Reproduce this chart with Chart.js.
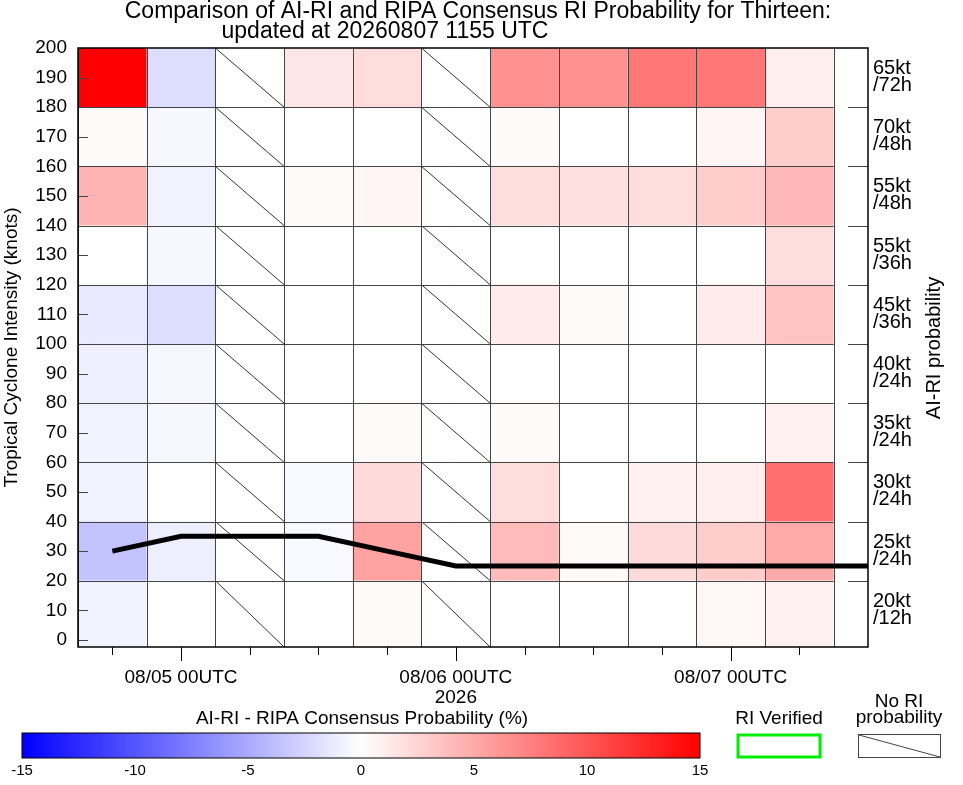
<!DOCTYPE html>
<html>
<head>
<meta charset="utf-8">
<script src="https://cdn.jsdelivr.net/npm/chart.js@4.4.1/dist/chart.umd.min.js"></script>
<style>
  html, body { margin: 0; padding: 0; background: #fff; }
  #wrap { width: 963px; height: 785px; position: relative; }
</style>
</head>
<body>
<div id="wrap"><canvas id="riChart" width="963" height="785"></canvas></div>
<script>
// forecast hours of each column centre (0 = 08/04 18UTC)
const hours = [0, 6, 12, 18, 24, 30, 36, 42, 48, 54, 60];
// row centres (knots), top to bottom
const rowCenters = [190, 170, 150, 130, 110, 90, 70, 50, 30, 10];
const rowLabels = ['65kt/72h', '70kt/48h', '55kt/48h', '55kt/36h', '45kt/36h',
  '40kt/24h', '35kt/24h', '30kt/24h', '25kt/24h', '20kt/12h'];
// AI-RI minus RIPA probability (%), null = no RI probability
const diff190 = [15, -2, null, 1.5, 2, null, 6.5, 6.5, 8, 8, 1];
const diff170 = [0.3, -0.5, null, 0, 0, null, 0.3, 0, 0, 0.6, 3];
const diff150 = [4.5, -0.8, null, 0.3, 0.6, null, 2, 1.8, 2, 3, 4.2];
const diff130 = [0, -0.5, null, 0, 0, null, 0, 0, 0, 0, 2];
const diff110 = [-1.3, -2, null, 0, 0, null, 1.2, 0.3, 0, 1.2, 3.5];
const diff90 = [-1, -0.5, null, 0, 0, null, 0, 0, 0, 0, 0];
const diff70 = [-0.8, -0.5, null, 0, 0.3, null, 0.3, 0, 0, 0, 0.8];
const diff50 = [-0.8, 0, null, -0.4, 2.2, null, 2, 0, 0.8, 1, 8.5];
const diff30 = [-3.5, -1, null, -0.4, 5.5, null, 4, 0.3, 2.2, 3, 5];
const diff10 = [-0.8, 0, null, 0, 0.3, null, 0, 0, 0, 0.5, 0.8];
const diffRows = [diff190, diff170, diff150, diff130, diff110, diff90, diff70, diff50, diff30, diff10];
// observed / forecast intensity line
const vmaxHours = [0, 6, 12, 18, 24, 30, 36, 42, 48, 54, 60, 66];
const vmax = [30, 35, 35, 35, 30, 25, 25, 25, 25, 25, 25, 25];
const dateLabels = { 6: '08/05 00UTC', 30: '08/06 00UTC', 54: '08/07 00UTC' };
const cbTicks = [-15, -10, -5, 0, 5, 10, 15];

const FONT = '"Liberation Sans", Arial, sans-serif';

function diffColor(v) {
  const t = Math.max(-1, Math.min(1, v / 15));
  const f = Math.round(255 * (1 - Math.abs(t)));
  return t >= 0 ? `rgb(255,${f},${f})` : `rgb(${f},${f},255)`;
}

const cellPlugin = {
  id: 'cells',
  beforeDatasetsDraw(chart) {
    const { ctx, chartArea: a, scales: { x, y } } = chart;
    ctx.save();
    rowCenters.forEach((rc, r) => {
      const y0 = y.getPixelForValue(rc + 10);
      const y1 = rc - 10 <= 0 ? a.bottom : y.getPixelForValue(rc - 10);
      hours.forEach((h, c) => {
        const x0 = x.getPixelForValue(h - 3);
        const x1 = x.getPixelForValue(h + 3);
        const v = diffRows[r][c];
        if (v === null) {
          ctx.strokeStyle = '#000';
          ctx.lineWidth = 0.8;
          ctx.beginPath();
          ctx.moveTo(x0, y0);
          ctx.lineTo(x1, y1);
          ctx.stroke();
        } else {
          ctx.fillStyle = diffColor(v);
          ctx.fillRect(x0, y0, x1 - x0, y1 - y0);
        }
      });
    });
    // cell grid
    ctx.strokeStyle = '#444';
    ctx.lineWidth = 1;
    for (let i = 0; i <= hours.length; i++) {
      const px = Math.round(x.getPixelForValue(-3 + 6 * i)) + 0.5;
      ctx.beginPath(); ctx.moveTo(px, a.top); ctx.lineTo(px, a.bottom); ctx.stroke();
    }
    for (let k = 20; k <= 180; k += 20) {
      const py = Math.round(y.getPixelForValue(k)) + 0.5;
      ctx.beginPath(); ctx.moveTo(a.left, py); ctx.lineTo(x.getPixelForValue(63), py); ctx.stroke();
      ctx.beginPath(); ctx.moveTo(a.right - 20, py); ctx.lineTo(a.right, py); ctx.stroke();
    }
    // y minor ticks
    for (let k = 0; k <= 200; k += 10) {
      const py = Math.round(y.getPixelForValue(k)) + 0.5;
      ctx.beginPath(); ctx.moveTo(a.left, py); ctx.lineTo(a.left + 10, py); ctx.stroke();
    }
    ctx.restore();
  },
  afterDraw(chart) {
    const { ctx, chartArea: a, scales: { x, y } } = chart;
    ctx.save();
    ctx.strokeStyle = '#000';
    ctx.lineWidth = 1.5;
    ctx.strokeRect(a.left, a.top, a.right - a.left, a.bottom - a.top);
    // x ticks
    ctx.lineWidth = 1;
    hours.forEach((h) => {
      const px = Math.round(x.getPixelForValue(h)) + 0.5;
      const len = dateLabels[h] ? 14 : 8;
      ctx.beginPath(); ctx.moveTo(px, a.bottom); ctx.lineTo(px, a.bottom + len); ctx.stroke();
    });
    ctx.fillStyle = '#000';
    ctx.font = '19px ' + FONT;
    ctx.textAlign = 'center';
    ctx.textBaseline = 'middle';
    Object.keys(dateLabels).forEach((h) => {
      ctx.fillText(dateLabels[h], x.getPixelForValue(+h), 678);
    });
    ctx.fillText('2026', x.getPixelForValue(30), 698);
    // title
    ctx.font = '23px ' + FONT;
    ctx.fillText('Comparison of AI-RI and RIPA Consensus RI Probability for Thirteen:', 478, 12);
    ctx.fillText('updated at 20260807 1155 UTC', 385, 32);
    // right labels
    ctx.font = '20px ' + FONT;
    ctx.textAlign = 'left';
    rowCenters.forEach((rc, r) => {
      const py = y.getPixelForValue(rc);
      const parts = rowLabels[r].split('/');
      ctx.fillText(parts[0], a.right + 5, py - 9);
      ctx.fillText('/' + parts[1], a.right + 5, py + 8);
    });
    ctx.save();
    ctx.translate(934, 348);
    ctx.rotate(-Math.PI / 2);
    ctx.textAlign = 'center';
    ctx.font = '20px ' + FONT;
    ctx.fillText('AI-RI probability', 0, 0);
    ctx.restore();
    // colour bar
    const cbL = 22, cbR = 700, cbT = 733, cbB = 758;
    const grad = ctx.createLinearGradient(cbL, 0, cbR, 0);
    grad.addColorStop(0, 'rgb(0,0,255)');
    grad.addColorStop(0.5, 'rgb(255,255,255)');
    grad.addColorStop(1, 'rgb(255,0,0)');
    ctx.fillStyle = grad;
    ctx.fillRect(cbL, cbT, cbR - cbL, cbB - cbT);
    ctx.strokeStyle = '#000';
    ctx.strokeRect(cbL, cbT, cbR - cbL, cbB - cbT);
    ctx.fillStyle = '#000';
    ctx.font = '15px ' + FONT;
    ctx.textAlign = 'center';
    cbTicks.forEach((t) => {
      ctx.fillText(String(t), cbL + (t + 15) / 30 * (cbR - cbL), 771);
    });
    ctx.font = '19px ' + FONT;
    ctx.fillText('AI-RI - RIPA Consensus Probability (%)', 362, 719);
    ctx.fillText('RI Verified', 779, 719);
    ctx.fillText('No RI', 899, 702);
    ctx.fillText('probability', 899, 718);
    ctx.strokeStyle = '#00ee00';
    ctx.lineWidth = 3;
    ctx.strokeRect(738, 735, 82, 22);
    ctx.strokeStyle = '#444';
    ctx.lineWidth = 1;
    ctx.strokeRect(858.5, 734.5, 82, 23);
    ctx.beginPath(); ctx.moveTo(859, 735); ctx.lineTo(940, 757); ctx.stroke();
    ctx.restore();
  },
};

new Chart(document.getElementById('riChart'), {
  type: 'line',
  data: {
    datasets: [
      {
        label: 'Intensity',
        data: vmaxHours.map((h, i) => ({ x: h, y: vmax[i] })),
        borderColor: '#000',
        borderWidth: 5,
        pointRadius: 0,
        tension: 0,
      },
    ],
  },
  options: {
    responsive: false,
    animation: false,
    devicePixelRatio: 1,
    layout: { padding: { top: 48, right: 95, bottom: 78, left: 0 } },
    plugins: { legend: { display: false }, tooltip: { enabled: false } },
    scales: {
      x: {
        type: 'linear',
        min: -3,
        max: 66,
        afterFit: (s) => { s.height = 60; },
        ticks: { display: false },
        grid: { display: false },
        border: { display: false },
      },
      y: {
        min: -2.4,
        max: 200,
        afterFit: (s) => { s.width = 78; },
        afterBuildTicks: (s) => {
          s.ticks = [];
          for (let k = 0; k <= 200; k += 10) s.ticks.push({ value: k });
        },
        ticks: { color: '#000', font: { size: 19, family: FONT }, padding: 3 },
        grid: { display: false },
        border: { display: false },
        title: {
          display: true,
          text: 'Tropical Cyclone Intensity (knots)',
          color: '#000',
          font: { size: 19, family: FONT },
          padding: 0,
        },
      },
    },
  },
  plugins: [cellPlugin],
});
</script>
</body>
</html>
